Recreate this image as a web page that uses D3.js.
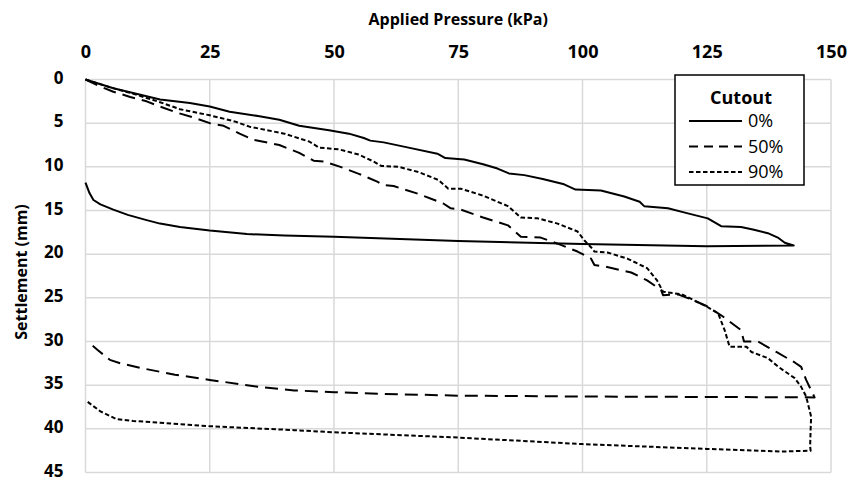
<!DOCTYPE html>
<html>
<head>
<meta charset="utf-8">
<script src="https://cdn.jsdelivr.net/npm/d3@7/dist/d3.min.js"></script>
<style>
  html, body { margin: 0; padding: 0; background: #fff; }
  svg { display: block; }
  text { font-family: "Open Sans", "Liberation Sans", sans-serif; fill: #000; }
</style>
</head>
<body>
<svg id="chart" width="851" height="481"></svg>
<script>
// Plate load test: applied pressure (kPa) vs settlement (mm), loading + unloading
const xTicks = [0, 25, 50, 75, 100, 125, 150];
const yTicks = [0, 5, 10, 15, 20, 25, 30, 35, 40, 45];
const seriesNames = ["0%", "50%", "90%"];

// [pressure, settlement] pairs, loading branch followed by unloading branch
const cut0 = [
  [0,0],[5.6,1.0],[10,1.6],[15,2.3],[21,2.7],[25,3.1],[29,3.7],[35,4.2],[39,4.6],[43,5.3],
  [49,5.8],[53,6.2],[56,6.7],[57.3,7.0],[60,7.2],[65,7.8],[70.8,8.5],[72.4,9.0],[76.2,9.15],
  [80,9.7],[82.9,10.2],[85.2,10.75],[88.3,10.95],[92,11.4],[96.3,12.0],[98.6,12.6],[103.7,12.7],
  [108.4,13.4],[111.5,14.0],[112.4,14.5],[117.2,14.75],[121,15.3],[125.2,15.9],[127.9,16.8],
  [131.9,16.9],[134.5,17.2],[137.3,17.6],[139.3,18.1],[140.7,18.7],[142.5,19.0],
  [125,19.1],[100,18.85],[75,18.5],[50,18.0],[40,17.85],[32.5,17.7],[25,17.3],[19,16.9],
  [15,16.5],[12.3,16.1],[8.5,15.5],[5.6,14.9],[3,14.3],[1.6,13.8],[0.8,13.0],[0,11.8]
];
const cut50 = [
  [0,0],[3,0.8],[5.6,1.4],[9,2.0],[12.3,2.5],[15,3.1],[18.4,3.8],[22,4.4],[25,5.0],[27.8,5.3],
  [31,6.2],[33.8,6.9],[39,7.5],[43,8.4],[45.9,9.3],[48,9.4],[51.3,10.0],[55,10.8],[58.7,11.7],
  [60,12.1],[62,12.2],[67,13.1],[72,14.2],[73.5,14.75],[75.5,14.9],[80,15.8],[85,16.7],
  [87.6,18.0],[91.6,18.1],[95,18.8],[99,19.7],[101.7,20.5],[102.4,21.25],[104.4,21.4],
  [109.8,22.1],[113,23.0],[115.8,24.1],[116.2,24.7],[119.2,24.6],[122,25.2],[125.2,26.0],
  [127.9,27.0],[131.9,28.7],[132.5,30.0],[135.3,30.0],[139,31.2],[142.7,32.4],[144,32.9],
  [145,34.4],[146.7,36.4],
  [125,36.35],[100,36.3],[75,36.2],[60,36.0],[50,35.8],[42,35.6],[35,35.2],[25,34.4],
  [18,33.8],[11.7,33.1],[7,32.5],[4.9,32.1],[2.5,31.0],[0.4,30.0]
];
const cut90 = [
  [0,0],[5,0.9],[10,1.7],[15,2.6],[19,3.4],[25,4.1],[30,4.8],[33,5.4],[40,6.2],[45,7.1],
  [47,7.8],[51,8.0],[55,8.6],[58,9.4],[59.5,9.9],[63,10.0],[67,10.6],[71,11.5],[73,12.5],
  [75.5,12.5],[80,13.3],[85,14.5],[87.6,15.8],[91,15.9],[95,16.5],[99,17.4],[100.5,18.5],
  [101.7,19.2],[102.4,19.7],[105,19.8],[109,20.5],[113,21.6],[115,23.0],[116.2,24.3],
  [120,24.6],[125,26.0],[127.3,26.8],[128.6,28.7],[129.6,30.6],[133,30.6],[134,31.2],
  [137.3,31.9],[139.4,32.9],[142.7,34.2],[144,35.2],[145,36.3],[146,38.6],[145.9,40.1],
  [145.8,42.0],[145.9,42.5],
  [140,42.6],[125,42.3],[100,41.75],[75,41.0],[50,40.4],[42,40.15],[25,39.7],[15,39.3],
  [9.6,39.1],[6.3,38.9],[3,38.0],[0.4,36.9]
];

const seriesData = [cut0, cut50, cut90];
const dashes = [null, "13,7", "4.5,2.5"];

const svg = d3.select("#chart");

const x = d3.scaleLinear().domain([0, 150]).range([85.5, 831]);
const y = d3.scaleLinear().domain([0, 45]).range([79.5, 472.5]);

// gridlines
const grid = svg.append("g").attr("stroke", "#d9d9d9").attr("stroke-width", 1.5);
grid.selectAll("line.v").data(xTicks).join("line")
  .attr("x1", d => x(d)).attr("x2", d => x(d))
  .attr("y1", y(0)).attr("y2", y(45));
grid.selectAll("line.h").data(yTicks).join("line")
  .attr("x1", x(0)).attr("x2", x(150))
  .attr("y1", d => y(d)).attr("y2", d => y(d));

// axes (labels only, lines come from the grid)
const xAxis = svg.append("g").attr("transform", `translate(0,${y(0) - 10})`)
  .call(d3.axisTop(x).tickValues(xTicks).tickSize(0).tickPadding(12));
xAxis.select(".domain").remove();
xAxis.selectAll("text").attr("font-size", 18).attr("font-weight", 700)
  .attr("font-family", "'Open Sans', sans-serif").attr("fill", "#000");

const yAxis = svg.append("g").attr("transform", `translate(${x(0) - 22},0)`)
  .call(d3.axisLeft(y).tickValues(yTicks).tickSize(0).tickPadding(0));
yAxis.select(".domain").remove();
yAxis.selectAll("text").attr("font-size", 17).attr("font-weight", 700)
  .attr("dy", "0.22em")
  .attr("font-family", "'Open Sans', sans-serif").attr("fill", "#000");

// axis titles
svg.append("text")
  .attr("x", (x(0) + x(150)) / 2).attr("y", 25)
  .attr("text-anchor", "middle").attr("font-size", 16).attr("font-weight", 700)
  .text("Applied Pressure (kPa)");
svg.append("text")
  .attr("transform", `translate(27,${(y(0) + y(45)) / 2 - 4}) rotate(-90)`)
  .attr("text-anchor", "middle").attr("font-size", 16).attr("font-weight", 700)
  .text("Settlement (mm)");

// curves
const line = d3.line().x(d => x(d[0])).y(d => y(d[1]));
svg.append("g").selectAll("path").data(seriesData).join("path")
  .attr("d", line)
  .attr("fill", "none")
  .attr("stroke", "#000")
  .attr("stroke-width", 2)
  .attr("stroke-linejoin", "round")
  .attr("stroke-dasharray", (d, i) => dashes[i]);

// legend
const lg = svg.append("g");
lg.append("rect").attr("x", 675).attr("y", 75).attr("width", 129).attr("height", 110)
  .attr("fill", "#fff").attr("stroke", "#000").attr("stroke-width", 1.5);
lg.append("text").attr("x", 741).attr("y", 104).attr("text-anchor", "middle")
  .attr("font-size", 18).attr("font-weight", 700).text("Cutout");
const rows = lg.selectAll("g.row").data(seriesNames).join("g")
  .attr("transform", (d, i) => `translate(0,${121 + i * 25.5})`);
rows.append("line").attr("x1", 689).attr("x2", 742).attr("y1", 0).attr("y2", 0)
  .attr("stroke", "#000").attr("stroke-width", 2)
  .attr("stroke-dasharray", (d, i) => i === 1 ? "9,6" : dashes[i]);
rows.append("text").attr("x", 748).attr("y", 0).attr("dy", "0.35em")
  .attr("font-size", 18).text(d => d);
</script>
</body>
</html>
